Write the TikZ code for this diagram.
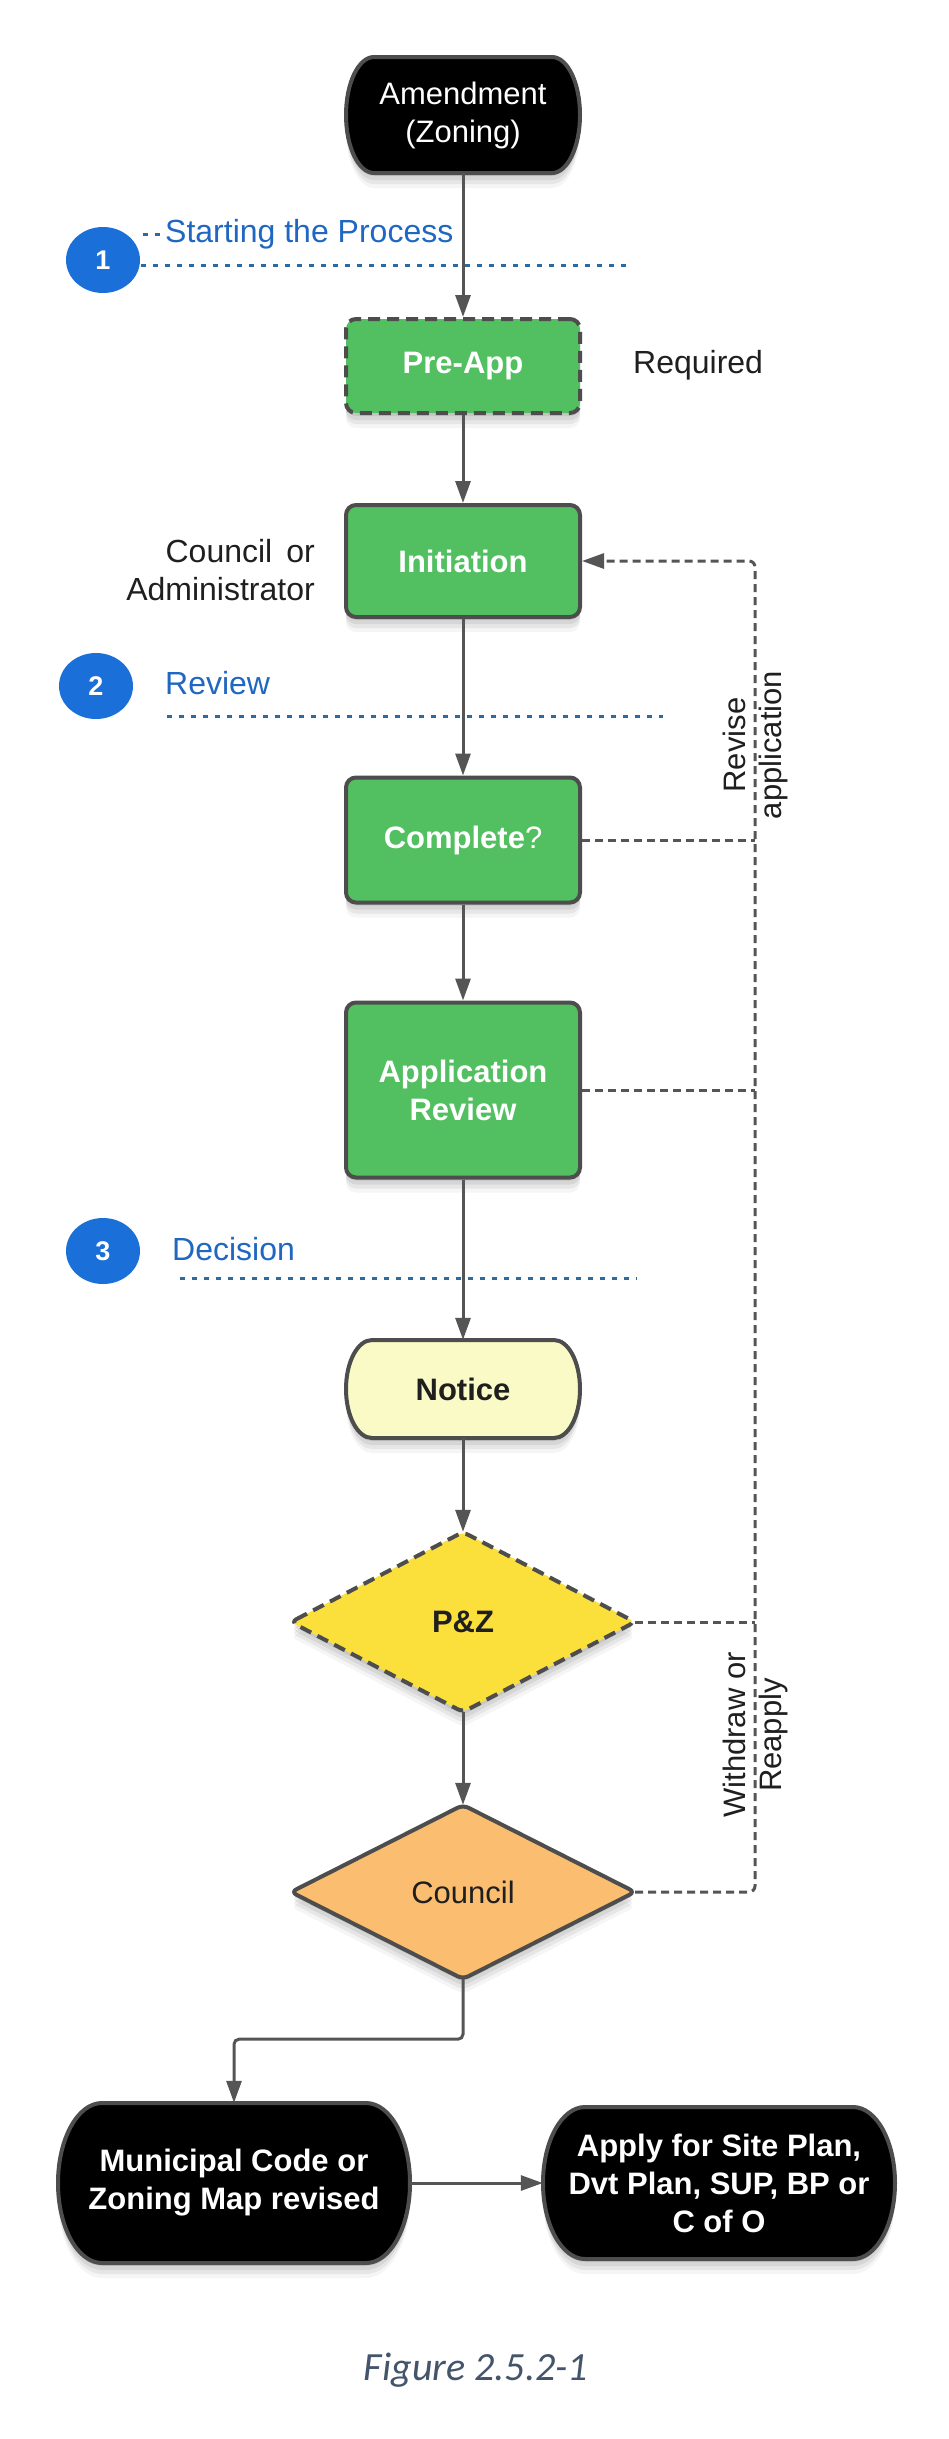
\documentclass[tikz,border=0pt]{standalone}
\usepackage{fontspec}
\setmainfont{Liberation Sans}
\newfontfamily\capfont{Carlito}
\usetikzlibrary{arrows.meta,shapes.geometric}
\definecolor{bord}{HTML}{4D4D4D}
\definecolor{lnc}{HTML}{555555}
\definecolor{blu}{HTML}{1A6FD8}
\definecolor{bluetxt}{HTML}{1F67C0}
\definecolor{dotc}{HTML}{2D6A9E}
\definecolor{grn}{HTML}{52C060}
\definecolor{ntc}{HTML}{FAFAC6}
\definecolor{pzy}{HTML}{FBE03C}
\definecolor{cor}{HTML}{FBBD6F}
\definecolor{txtc}{HTML}{1F1F1F}
\definecolor{capc}{HTML}{44546A}
% stadium outline: cx, cy (image y), half width, half height, end radius, style
\newcommand\stadpath[6]{\path[#6] (#1-#3+#5,-#2+#4) -- (#1+#3-#5,-#2+#4) arc[start angle=90,end angle=-90,x radius=#5pt,y radius=#4pt] -- (#1-#3+#5,-#2-#4) arc[start angle=270,end angle=90,x radius=#5pt,y radius=#4pt] -- cycle;}
% diamond outline: cx, cy, half width, half height, style
\newcommand\diapath[5]{\path[#5] (#1-#3,-#2) -- (#1,-#2+#4) -- (#1+#3,-#2) -- (#1,-#2-#4) -- cycle;}
\begin{document}
\begin{tikzpicture}[x=1pt,y=1pt,
 shad/.style={
   preaction={fill=black, opacity=.07, transform canvas={yshift=-3pt}},
   preaction={fill=black, opacity=.07, transform canvas={yshift=-7pt}},
   preaction={fill=black, opacity=.06, transform canvas={yshift=-11pt}},
   preaction={fill=black, opacity=.04, transform canvas={yshift=-15pt}}},
 conn/.style={draw=lnc, line width=3pt, -{Triangle[length=22pt,width=15pt]}},
 fb/.style={draw=lnc, line width=3pt, dash pattern=on 8pt off 5pt},
 bdot/.style={draw=dotc, line width=3pt, dash pattern=on 5pt off 7pt},
 gbox/.style={rectangle, rounded corners=10pt, fill=grn, draw=bord, line width=4pt, text=white, font=\bfseries\fontsize{31}{38}\selectfont, align=center, inner sep=0pt, shad, minimum width=234pt},
 ntxt/.style={inner sep=0pt, align=center, font=\fontsize{31}{38}\selectfont},
 btxt/.style={ntxt, font=\bfseries\fontsize{31}{38}\selectfont},
 lbl/.style={inner sep=0pt, text=txtc, font=\fontsize{32}{38}\selectfont},
 bl/.style={lbl, text=bluetxt},
 num/.style={ellipse, fill=blu, minimum width=74pt, minimum height=66pt, inner sep=0pt, text=white, font=\bfseries\fontsize{27}{30}\selectfont},
 shapebase/.style={draw=bord, line width=4pt, shad},
 rot/.style={inner sep=0pt, text=txtc, rotate=90, align=center, font=\fontsize{31}{36}\selectfont}
]
\useasboundingbox (0,0) rectangle (948,-2439);
\fill[white] (0,0) rectangle (948,-2439);

% section markers
\node[num] (n1) at (103,-260) {1};
\node[bl, anchor=base west] (s1) at (165,-242) {Starting the Process};
\coordinate (d0a) at (143,-234); \coordinate (d0b) at (162,-234);
\draw[bdot] (d0a) -- (d0b);
\coordinate (d1a) at (141,-265); \coordinate (d1b) at (626,-265);
\draw[bdot] (d1a) -- (d1b);

\node[num] (n2) at (96,-686) {2};
\node[bl, anchor=base west] (s2) at (165,-694) {Review};
\coordinate (d2a) at (167,-716); \coordinate (d2b) at (663,-716);
\draw[bdot] (d2a) -- (d2b);

\node[num] (n3) at (103,-1251) {3};
\node[bl, anchor=base west] (s3) at (172,-1260) {Decision};
\coordinate (d3a) at (180,-1278); \coordinate (d3b) at (637,-1278);
\draw[bdot] (d3a) -- (d3b);

% Amendment
\stadpath{463}{115}{117}{58}{28}{shapebase, fill=black}
\node[ntxt, text=white, minimum width=234pt, minimum height=116pt] (amend) at (463,-115) {Amendment\\(Zoning)};

% green steps
\node[gbox, minimum height=94pt, dash pattern=on 12pt off 7pt] (pre) at (463,-366) {Pre-App};
\node[lbl, anchor=base west] (req) at (633,-373) {Required};
\node[gbox, minimum height=112pt] (init) at (463,-561) {Initiation};
\node[lbl, anchor=east, align=right] (who) at (315,-570) {Council\hspace{14pt}or\\Administrator};
\node[gbox, minimum height=125pt] (comp) at (463,-840) {Complete{\mdseries ?}};
\node[gbox, minimum height=175pt] (apr) at (463,-1090) {Application\\Review};

% Notice
\stadpath{463}{1389}{117}{49}{26}{shapebase, fill=ntc}
\node[btxt, text=txtc, minimum width=234pt, minimum height=98pt] (notice) at (463,-1389) {Notice};

% P&Z
\diapath{463}{1622}{172}{90}{shapebase, fill=pzy, rounded corners=6pt, dash pattern=on 12pt off 7pt}
\node[btxt, text=txtc, minimum width=344pt, minimum height=180pt] (pz) at (463,-1622) {P\&Z};

% Council
\diapath{463}{1892}{172}{87}{shapebase, fill=cor, rounded corners=6pt}
\node[ntxt, text=txtc, minimum width=344pt, minimum height=174pt] (coun) at (463,-1892) {Council};

% final outcomes
\stadpath{234}{2183}{176}{80}{44}{shapebase, fill=black}
\node[btxt, text=white, minimum width=352pt, minimum height=160pt] (muni) at (234,-2183) {Municipal Code or\\Zoning Map revised};
\stadpath{719}{2183}{176}{76}{42}{shapebase, fill=black}
\node[btxt, text=white, minimum width=352pt, minimum height=152pt] (apply) at (719,-2183) {Apply for Site Plan,\\Dvt Plan, SUP, BP or\\C of O};

% main flow
\draw[conn] (amend) -- (pre);
\draw[conn] (pre) -- (init);
\draw[conn] (init) -- (comp);
\draw[conn] (comp) -- (apr);
\draw[conn] (apr) -- (notice);
\draw[conn] (notice) -- (pz);
\draw[conn] (pz) -- (coun);
\draw[conn, rounded corners=5pt] (coun.south) -- ++(0,-60) -| (muni.north);
\draw[conn] (muni) -- (apply);

% feedback loop
\coordinate (rtop) at (755,-561);
\coordinate (rbot) at (755,-1892);
\draw[fb, rounded corners=6pt, -{Triangle[length=22pt,width=15pt]}] (coun.east) -- (rbot) -- (rtop) -- (init.east);
\draw[fb] (comp.east) -- (comp.east -| rtop);
\draw[fb] (apr.east) -- (apr.east -| rtop);
\draw[fb] (pz.east) -- (pz.east -| rtop);
\node[rot] (revlbl) at (755,-745) {Revise\\application};
\node[rot] (wdlbl) at (755,-1735) {Withdraw or\\Reapply};

% caption
\node[inner sep=0pt, anchor=base, text=capc, font=\capfont\itshape\fontsize{40}{48}\selectfont] (cap) at (476,-2380) {Figure 2.5.2-1};
\end{tikzpicture}
\end{document}
